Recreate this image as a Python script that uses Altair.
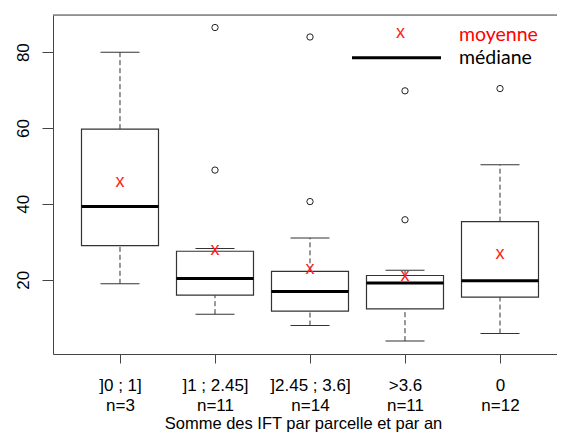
import altair as alt
import pandas as pd

categories = ["]0 ; 1]", "]1 ; 2.45]", "]2.45 ; 3.6]", ">3.6", "0"]
counts = [3, 11, 14, 11, 12]
whisker_low = [18.9, 10.9, 7.9, 3.8, 5.8]
q1 = [29.0, 15.9, 11.7, 12.3, 15.4]
medians = [39.3, 20.3, 16.9, 19.1, 19.7]
q3 = [59.7, 27.5, 22.2, 21.1, 35.3]
whisker_high = [80.0, 28.2, 31.0, 22.5, 50.3]
means = [45.8, 27.9, 22.8, 21.0, 26.8]
outlier_cats = ["]1 ; 2.45]", "]1 ; 2.45]", "]2.45 ; 3.6]", "]2.45 ; 3.6]", ">3.6", ">3.6", "0"]
outlier_vals = [86.5, 48.9, 84.0, 40.6, 69.8, 35.8, 70.4]
y_ticks = [20, 40, 60, 80]
x_title = "Somme des IFT par parcelle et par an"
legend_labels = ["moyenne", "médiane"]

labels = [f"{c}|n={n}" for c, n in zip(categories, counts)]
lab_map = dict(zip(categories, labels))

df = pd.DataFrame({
    "label": labels, "wlo": whisker_low, "q1": q1, "med": medians,
    "q3": q3, "whi": whisker_high, "mean": means,
})
out_df = pd.DataFrame({"label": [lab_map[c] for c in outlier_cats], "val": outlier_vals})

W, H = 504, 339
LINE = "#333333"
FRAME = "#444444"
FONT = "Liberation Sans"

x_enc = alt.X(
    "label:N", sort=labels,
    scale=alt.Scale(type="point", padding=0.6526, align=0.5403),
    axis=alt.Axis(
        labelExpr="split(datum.label, '|')", labelFont=FONT, labelFontSize=17,
        labelColor="black", labelLineHeight=20, labelBaseline="top", labelAngle=0,
        labelPadding=14, tickSize=9, tickColor=FRAME, domainColor=FRAME,
        labelOverlap=False, grid=False,
        title=x_title, titleFont=FONT, titleFontSize=16.5, titleFontWeight="normal",
        titleColor="black", titleY=74.5, titleX=250, titleBaseline="alphabetic",
        titleAlign="center",
    ),
)
y_scale = alt.Scale(domain=[0.4, 89.8], nice=False, zero=False)
y_axis = alt.Axis(
    values=y_ticks, labelFont=FONT, labelFontSize=17, labelColor="black",
    labelAngle=270, labelAlign="center", labelBaseline="bottom", labelPadding=10,
    tickSize=11, tickColor=FRAME, domainColor=FRAME, grid=False, title=None,
)

def Y(field):
    return alt.Y(f"{field}:Q", scale=y_scale, axis=y_axis, title=None)

base = alt.Chart(df)

w_low = base.mark_rule(color=LINE, strokeWidth=1, strokeDash=[5, 3]).encode(
    x=x_enc, y=Y("wlo"), y2="q1")
w_high = base.mark_rule(color=LINE, strokeWidth=1, strokeDash=[5, 3]).encode(
    x=x_enc, y=Y("q3"), y2="whi")
cap_low = base.mark_tick(size=39, thickness=1, color=LINE, opacity=1).encode(x=x_enc, y=Y("wlo"))
cap_high = base.mark_tick(size=39, thickness=1, color=LINE, opacity=1).encode(x=x_enc, y=Y("whi"))
box = base.mark_bar(size=77, fill="white", stroke=LINE, strokeWidth=1.2, opacity=1).encode(
    x=x_enc, y=Y("q1"), y2="q3")
med = base.mark_tick(size=77, thickness=3, color="black", opacity=1).encode(x=x_enc, y=Y("med"))
mean = base.mark_text(text="x", color="#ff2020", fontSize=18, font=FONT,
                      baseline="middle", align="center").encode(x=x_enc, y=Y("mean"))
outl = alt.Chart(out_df).mark_point(shape="circle", size=40, filled=False, opacity=1,
                                    color="#222222", strokeWidth=1).encode(
    x=x_enc, y=Y("val"))

one = alt.Data(values=[{"a": 1}])
top_border = alt.Chart(one).mark_rule(color=FRAME, strokeWidth=1).encode(
    x=alt.value(0), x2=alt.value(W), y=alt.value(0))
leg_x = alt.Chart(one).mark_text(text="x", color="#ff2020", fontSize=18, font=FONT,
                                 baseline="middle", align="center").encode(
    x=alt.value(347.5), y=alt.value(17.7))
leg_line = alt.Chart(one).mark_rule(color="black", strokeWidth=3).encode(
    x=alt.value(299), x2=alt.value(388), y=alt.value(42.7))
leg_t1 = alt.Chart(one).mark_text(text=legend_labels[0], color="#ff0000", fontSize=19.5,
                                  font="Lato", align="left", baseline="alphabetic").encode(
    x=alt.value(406), y=alt.value(26))
leg_t2 = alt.Chart(one).mark_text(text=legend_labels[1], color="black", fontSize=19.5,
                                  font="Lato", align="left", baseline="alphabetic").encode(
    x=alt.value(406), y=alt.value(49.3))

chart = alt.layer(
    w_low, w_high, cap_low, cap_high, box, med, mean, outl,
    top_border, leg_x, leg_line, leg_t1, leg_t2,
).properties(
    width=W, height=H,
    autosize=alt.AutoSizeParams(type="none"),
    padding={"left": 45, "top": 7, "right": 0, "bottom": 78},
).configure_view(stroke=None).configure(background="white")

chart.save("out.html", embed_options={"renderer": "svg", "actions": False})
